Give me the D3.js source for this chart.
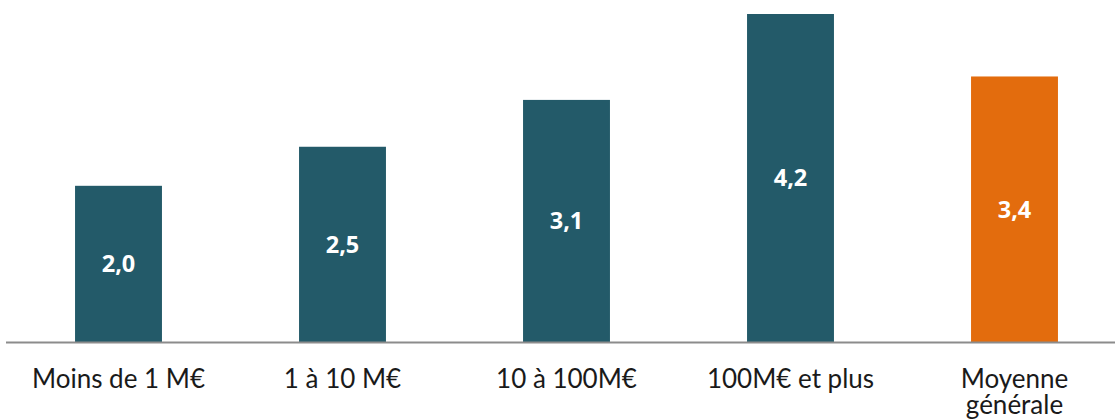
<!DOCTYPE html>
<html>
<head>
<meta charset="utf-8">
<script src="https://cdn.jsdelivr.net/npm/d3@7"></script>
<style>
  html, body { margin: 0; padding: 0; background: #fff; }
  svg { display: block; }
</style>
</head>
<body>
<svg id="chart" width="1115" height="420"></svg>
<script>
// Chiffre d'affaires par tranche : valeurs moyennes
const categories = ["Moins de 1 M€", "1 à 10 M€", "10 à 100M€", "100M€ et plus", "Moyenne générale"];
const values = [2.0, 2.5, 3.1, 4.2, 3.4];
const valueLabels = ["2,0", "2,5", "3,1", "4,2", "3,4"];
const categoryLines = [["Moins de 1 M€"], ["1 à 10 M€"], ["10 à 100M€"], ["100M€ et plus"], ["Moyenne", "générale"]];

const teal = "#235A69";
const orange = "#E36C0D";

const svg = d3.select("#chart");

const baseline = 342;
const x = d3.scaleBand()
  .domain(categories)
  .range([6.5, 1126.5])
  .paddingInner(0.612)
  .paddingOuter(0.306);

const y = d3.scaleLinear()
  .domain([0, 4.2])
  .range([baseline, 14]);

// bars
svg.append("g")
  .selectAll("rect")
  .data(categories)
  .join("rect")
  .attr("x", d => x(d))
  .attr("width", x.bandwidth())
  .attr("y", (d, i) => y(values[i]))
  .attr("height", (d, i) => baseline - y(values[i]))
  .attr("fill", (d, i) => i === categories.length - 1 ? orange : teal);

// value labels in the middle of each bar
svg.append("g")
  .selectAll("text")
  .data(categories)
  .join("text")
  .attr("x", d => x(d) + x.bandwidth() / 2)
  .attr("y", (d, i) => (y(values[i]) + baseline) / 2)
  .attr("dy", "0.36em")
  .attr("text-anchor", "middle")
  .attr("fill", "#fff")
  .attr("font-family", "'Open Sans', sans-serif")
  .attr("font-weight", 700)
  .attr("font-size", 23.5)
  .text((d, i) => valueLabels[i]);

// x axis
const xAxis = d3.axisBottom(x).tickSize(0).tickFormat("");
const axisG = svg.append("g")
  .attr("transform", `translate(0,${baseline})`)
  .call(xAxis);
axisG.select(".domain")
  .attr("d", `M6,0.5H1115`)
  .attr("stroke", "#8c8c8c")
  .attr("stroke-width", 2);

// category labels (the last one wraps over two lines)
const labels = svg.append("g")
  .selectAll("text")
  .data(categories)
  .join("text")
  .attr("x", d => x(d) + x.bandwidth() / 2)
  .attr("y", 388)
  .attr("text-anchor", "middle")
  .attr("fill", "#1a1a1a")
  .attr("font-family", "Lato, sans-serif")
  .attr("font-size", 26);

labels.each(function(d, i) {
  const t = d3.select(this);
  categoryLines[i].forEach((line, j) => {
    t.append("tspan")
      .attr("x", x(d) + x.bandwidth() / 2)
      .attr("dy", j === 0 ? 0 : 26)
      .text(line);
  });
});
</script>
</body>
</html>
